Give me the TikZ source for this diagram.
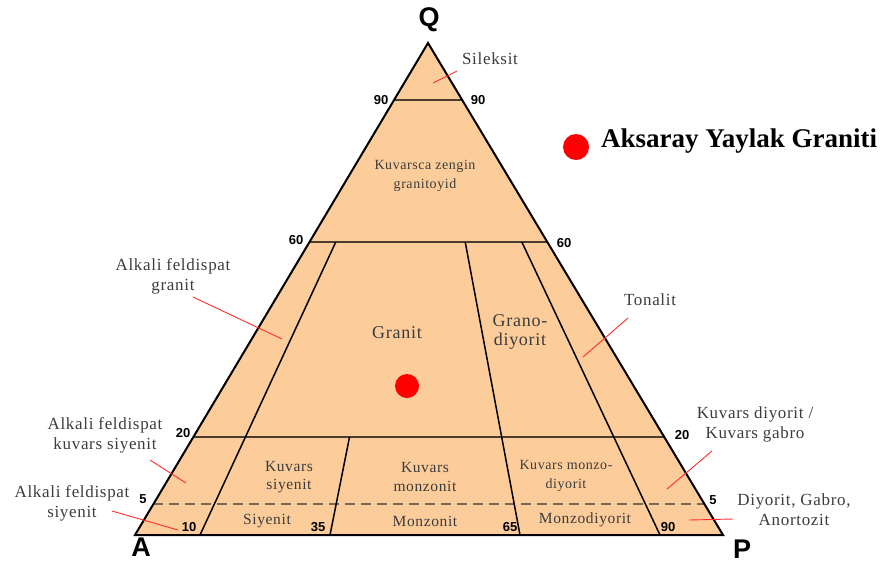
\documentclass[tikz,border=0pt]{standalone}
\usepackage{fontspec}
\setmainfont{Liberation Serif}
\newfontfamily\numfont{Liberation Sans}
\usetikzlibrary{calc}
\definecolor{peach}{RGB}{252,204,154}
\definecolor{txtgray}{RGB}{60,60,60}
\definecolor{hlinec}{RGB}{75,60,45}
\definecolor{dashc}{RGB}{120,105,90}
\definecolor{leaderc}{RGB}{255,45,45}
\begin{document}
\begin{tikzpicture}[x=1pt,y=-1pt,
 outlbl/.style={font=\fontsize{17}{20}\selectfont\addfontfeature{LetterSpace=4}, text=txtgray, align=center, inner sep=0},
 inlbl/.style={font=\fontsize{15.5}{18.5}\selectfont\addfontfeature{LetterSpace=4}, text=txtgray, align=center, inner sep=0},
 smalllbl/.style={inlbl, font=\fontsize{14}{18.5}\selectfont\addfontfeature{LetterSpace=4}},
 biglbl/.style={inlbl, font=\fontsize{18}{19}\selectfont\addfontfeature{LetterSpace=4}},
 numlbl/.style={font=\numfont\bfseries\fontsize{13}{14}\selectfont, inner sep=0},
 vertlbl/.style={font=\numfont\bfseries\fontsize{27}{28}\selectfont, inner sep=0},
 leaderline/.style={draw=leaderc, line width=0.9pt},
 reddot/.style={circle, fill=red, inner sep=0},
 edgeline/.style={draw=black, line width=2pt, line join=miter},
 levelline/.style={draw=hlinec, line width=1.8pt},
 divline/.style={draw=black, line width=1.5pt},
 dashline/.style={draw=dashc, line width=1.5pt, dash pattern=on 10pt off 6pt}
]
\useasboundingbox (0,0) rectangle (882,563);
% vertices
\coordinate (A) at (135,535);
\coordinate (P) at (723,535);
\coordinate (Q) at (428,43);
% level lines
\coordinate (L90) at ($(A)!0.884!(Q)$);  \coordinate (R90) at ($(P)!0.884!(Q)$);
\coordinate (L60) at ($(A)!0.5955!(Q)$); \coordinate (R60) at ($(P)!0.5955!(Q)$);
\coordinate (L20) at ($(A)!0.1992!(Q)$); \coordinate (R20) at ($(P)!0.1992!(Q)$);
\coordinate (L5) at ($(A)!0.063!(Q)$);   \coordinate (R5) at ($(P)!0.063!(Q)$);
% dividers
\coordinate (b10) at (200,535); \coordinate (t10) at ($(b10)!0.5955!(Q)$);
\coordinate (b35) at (330,535); \coordinate (t35) at ($(b35)!0.1992!(Q)$);
\coordinate (b65) at (520,535); \coordinate (t65) at ($(b65)!0.5955!(Q)$);
\coordinate (b90) at (660,535); \coordinate (t90) at ($(b90)!0.5955!(Q)$);

\fill[peach] (A) -- (P) -- (Q) -- cycle;
\draw[dashline] (L5) -- (R5);
\draw[levelline] (L90) -- (R90);
\draw[levelline] (L60) -- (R60);
\draw[levelline] (L20) -- (R20);
\draw[divline] (b10) -- (t10);
\draw[divline] (b35) -- (t35);
\draw[divline] (b65) -- (t65);
\draw[divline] (b90) -- (t90);
\draw[edgeline] (A) -- (P) -- (Q) -- cycle;

% vertex labels
\node[vertlbl] (labQ) at (429,20) {Q};
\node[vertlbl] (labA) at (141,547) {A};
\node[vertlbl] (labP) at (742,549) {P};

% number labels
\node[numlbl] (n90l) at (381,100) {90};
\node[numlbl] (n90r) at (478,100) {90};
\node[numlbl] (n60l) at (296,240) {60};
\node[numlbl] (n60r) at (564,243) {60};
\node[numlbl] (n20l) at (183,433) {20};
\node[numlbl] (n20r) at (682,435) {20};
\node[numlbl] (n5l) at (143,499) {5};
\node[numlbl] (n5r) at (713,500) {5};
\node[numlbl] (n10) at (189,527) {10};
\node[numlbl] (n35) at (318,527) {35};
\node[numlbl] (n65) at (510,527) {65};
\node[numlbl] (n90b) at (668,527) {90};

% inner labels
\node[smalllbl] (kzg) at (425,176) {Kuvarsca zengin\\granitoyid};
\node[biglbl] (granit) at (397,333) {Granit};
\node[biglbl] (grano) at (520,332) {Grano-\\diyorit};
\node[inlbl] (ksiy) at (289,477) {Kuvars\\siyenit};
\node[inlbl] (kmon) at (425,477) {Kuvars\\monzonit};
\node[smalllbl] (kmd) at (566,476) {Kuvars monzo-\\diyorit};
\node[inlbl] (siy) at (267,521) {Siyenit};
\node[inlbl] (mon) at (425,521) {Monzonit};
\node[inlbl] (md) at (585,520) {Monzodiyorit};

% outer labels
\node[outlbl] (sil) at (490,59) {Sileksit};
\node[outlbl] (afg) at (173,276) {Alkali feldispat\\granit};
\node[outlbl] (ton) at (650,300) {Tonalit};
\node[outlbl] (afks) at (105,435) {Alkali feldispat\\kuvars siyenit};
\node[outlbl] (afs) at (72,503) {Alkali feldispat\\siyenit};
\node[outlbl] (kdg) at (755,424) {Kuvars diyorit /\\Kuvars gabro};
\node[outlbl] (dga) at (794,510) {Diyorit, Gabro,\\Anortozit};

% leader lines
\coordinate (s1) at (457,71);  \coordinate (e1) at (433,83);
\coordinate (s2) at (193,297); \coordinate (e2) at (282,339);
\coordinate (s3) at (628,318); \coordinate (e3) at (583,357);
\coordinate (s4) at (150,460); \coordinate (e4) at (186,483);
\coordinate (s5) at (112,511); \coordinate (e5) at (178,530);
\coordinate (s6) at (712,451); \coordinate (e6) at (667,489);
\coordinate (s7) at (733,519); \coordinate (e7) at (689,520);
\draw[leaderline] (s1) -- (e1);
\draw[leaderline] (s2) -- (e2);
\draw[leaderline] (s3) -- (e3);
\draw[leaderline] (s4) -- (e4);
\draw[leaderline] (s5) -- (e5);
\draw[leaderline] (s6) -- (e6);
\draw[leaderline] (s7) -- (e7);

% dots and legend
\node[reddot, minimum size=26pt] (legdot) at (576,147) {};
\node[reddot, minimum size=24pt] (sample) at (407,386) {};
\node[anchor=base west, inner sep=0, font=\bfseries\fontsize{27}{28}\selectfont] (legtxt) at (601,147) {Aksaray Yaylak Graniti};
\end{tikzpicture}
\end{document}
